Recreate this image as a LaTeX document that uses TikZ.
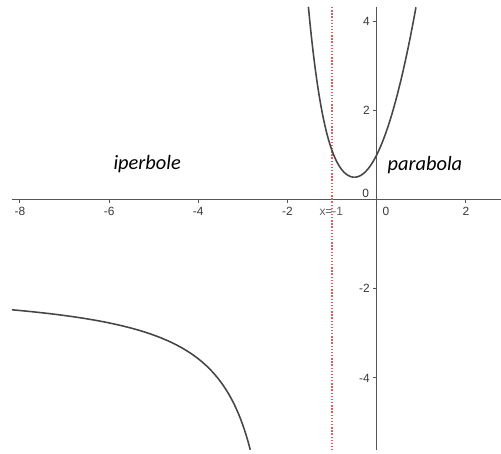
\documentclass[tikz,border=0pt]{standalone}
\usepackage{fontspec}
\setmainfont{Liberation Sans}
\newfontfamily\labelfont{Carlito}
\begin{document}
\begin{tikzpicture}[x=1cm,y=1cm,
  axisline/.style={draw={rgb,255:red,85;green,85;blue,85}, line width=0.8pt},
  tickline/.style={draw={rgb,255:red,85;green,85;blue,85}, line width=0.6pt},
  ticklabel/.style={font=\fontsize{7.6}{8}\selectfont, text={rgb,255:red,55;green,55;blue,55}, inner sep=0pt},
  curveline/.style={draw={rgb,255:red,70;green,70;blue,70}, line width=1pt},
  asym/.style={draw={rgb,255:red,215;green,95;blue,95}, line width=1pt, dash pattern=on 0.9pt off 1.1pt},
  namelabel/.style={font=\labelfont\itshape\fontsize{13}{15}\selectfont, inner sep=0pt, anchor=base}
]
\useasboundingbox (-8.446,-5.706) rectangle (2.787,4.473);
% axes
\coordinate (xl) at (-8.177,0);
\coordinate (xr) at (2.787,0);
\coordinate (yb) at (0,-5.617);
\coordinate (yt) at (0,4.316);
\draw[axisline] (xl) -- (xr);
\draw[axisline] (yb) -- (yt);
% ticks
\foreach \t in {-8,-6,-4,-2,2} {
  \coordinate (xt\t) at (\t,0);
  \draw[tickline] (xt\t) -- ++(0,-0.075);
}
\foreach \t in {-4,-2,2,4} {
  \coordinate (yt\t) at (0,\t);
  \draw[tickline] (yt\t) -- ++(-0.075,0);
}
% tick labels
\foreach \t in {-8,-6,-4,-2,2} {
  \node[ticklabel] (lx\t) at (\t,-0.274) {\t};
}
\node[ticklabel] (lx0) at (0.208,-0.274) {0};
\foreach \t in {-4,-2,2,4} {
  \node[ticklabel, anchor=east] (ly\t) at (-0.150,\t) {\t};
}
\node[ticklabel, anchor=east] (ly0) at (-0.166,0.13) {0};
% asymptote
\coordinate (at) at (-1,4.316);
\coordinate (ab) at (-1,-5.617);
\draw[asym] (at) -- (ab);
\node[ticklabel, text={rgb,255:red,95;green,95;blue,95}] (alab) at (-1.018,-0.274) {x=-1};
% parabola
\draw[curveline] plot[domain=-1.531:-0.5, samples=60, smooth] (\x,{0.5+2*(\x+0.5)^2+1.5*(\x+0.5)^4});
\draw[curveline] plot[domain=-0.5:0.881, samples=60, smooth] (\x,{0.5+2*(\x+0.5)^2});
% hyperbola
\draw[curveline] plot[domain=-8.177:-2.8335, samples=120, smooth] (\x,{-1.918+3.49/(\x+1.89)});
% names
\node[namelabel] (iper) at (-5.146,0.673) {iperbole};
\node[namelabel] (para) at (1.083,0.66) {parabola};
\end{tikzpicture}
\end{document}
